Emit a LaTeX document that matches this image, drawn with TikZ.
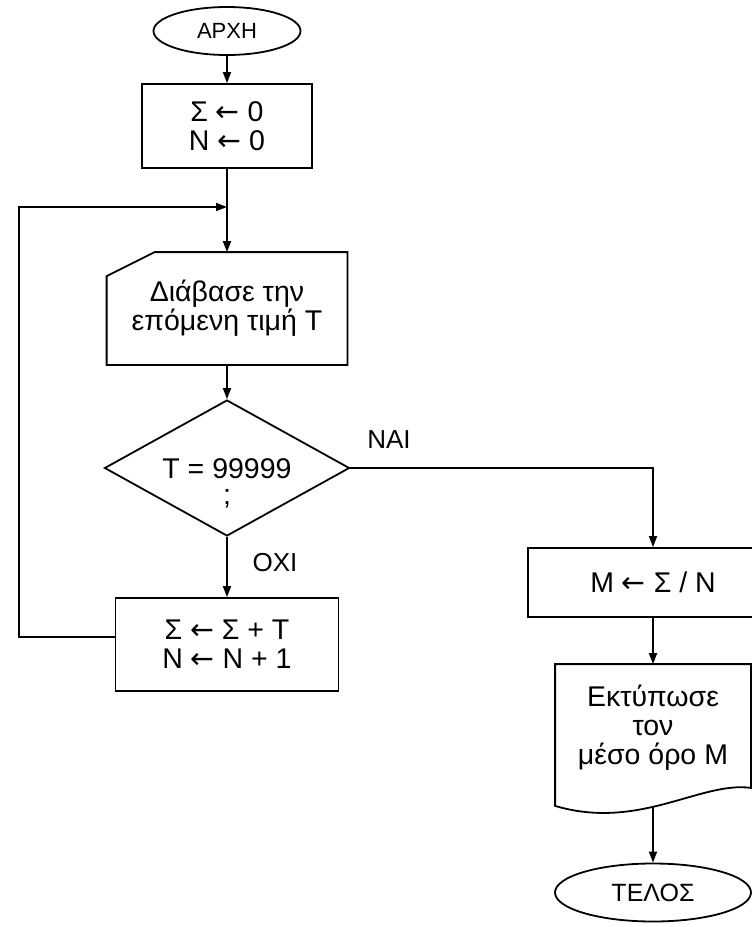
\documentclass[tikz,border=0pt]{standalone}
\usepackage{fontspec}
\setmainfont{Liberation Sans}
\newfontfamily\arrowfont{DejaVu Sans}
\newcommand{\getsto}{{\arrowfont ←}}
\usetikzlibrary{shapes.geometric,arrows.meta,calc}
\begin{document}
\begin{tikzpicture}[x=1pt,y=-1pt,line width=1.8pt,
    >={Triangle[length=11pt,width=8pt]},
    every node/.style={font=\fontsize{28.5}{29}\selectfont,align=center,inner sep=0pt},
    term/.style={draw,ellipse},
    proc/.style={draw,rectangle},
    cond/.style={draw,diamond},
    lbl/.style={font=\fontsize{26}{27}\selectfont}]
  \useasboundingbox (0,0) rectangle (752,927);
  \draw
    (227,31) node[term,minimum width=147,minimum height=48,font=\fontsize{22}{24}\selectfont] (0){ΑΡΧΗ}
    (227,126) node[proc,minimum width=170,minimum height=84] (1){Σ \getsto{} 0\\N \getsto{} 0}
    (227,308.5) node[minimum width=239,minimum height=111] (2){Διάβασε την\\επόμενη τιμή Τ}
    (227,468) node[cond,minimum width=245,minimum height=136] (3){}
    (227,483) node[font=\fontsize{28.5}{26}\selectfont] (4){Τ = 99999\\;}
    (227,644.5) node[proc,minimum width=223,minimum height=93] (5){Σ \getsto{} Σ + Τ\\N \getsto{} N + 1}
    (653,582.5) node[proc,minimum width=250,minimum height=69] (6){Μ \getsto{} Σ / Ν}
    (653,730) node[minimum width=194,minimum height=150] (7){}
    (653,728) node (7t){Εκτύπωσε\\τον\\μέσο όρο Μ}
    (653,892.5) node[term,minimum width=196,minimum height=58,font=\fontsize{25}{26}\selectfont] (8){ΤΕΛΟΣ}
    (389,440) node[lbl] (9){ΝΑΙ}
    (275,563) node[lbl] (10){ΟΧΙ};
  \coordinate (11) at (19,207);
  \coordinate (12) at (227,207);
  \draw ($(2.north west)+(0,24)$) -- ($(2.north west)+(48,0)$) -- (2.north east)
    -- (2.south east) -- (2.south west) -- cycle;
  \draw ($(7.north west)+(0,10)$) -- ($(7.north east)+(0,10)$) -- ($(7.south east)+(0,-18)$)
    .. controls +(-50,-7) and +(84,25) .. (7.south west) -- cycle;
  \begin{scope}[->]
    \draw (0) -- (1);
    \draw (1) -- (2);
    \draw (2) -- (3);
    \draw (3) -- (5);
    \draw (3) -| (6);
    \draw (6) -- ($(7.north)+(0,10)$);
    \draw (7) -- (8);
    \draw ([yshift=7.5pt]5.west) -| (11) -- (12);
  \end{scope}
\end{tikzpicture}
\end{document}
